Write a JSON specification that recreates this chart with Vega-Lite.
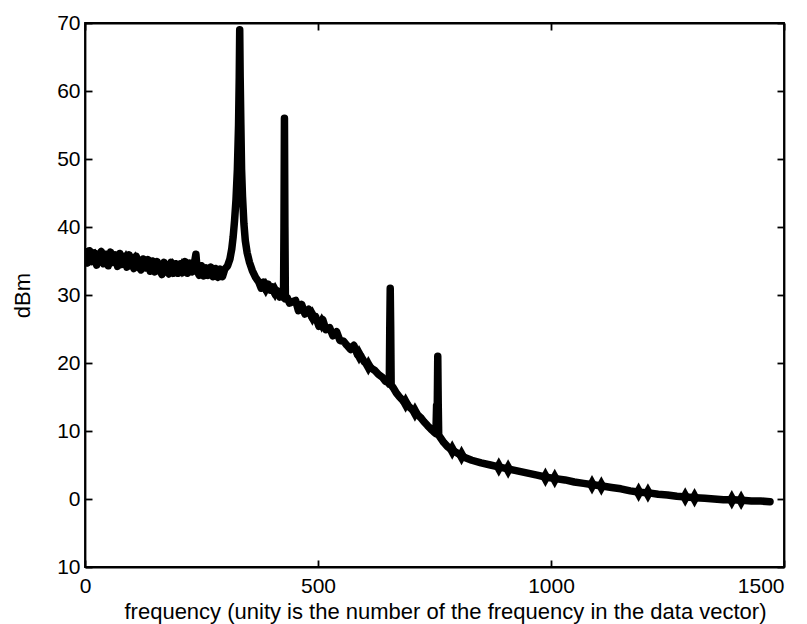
{
  "$schema": "https://vega.github.io/schema/vega-lite/v6.json",
  "width": 699,
  "height": 544,
  "autosize": "none",
  "padding": {"left": 85, "top": 23, "right": 23, "bottom": 57},
  "background": "white",
  "config": {
    "view": {"stroke": "black", "strokeWidth": 1.8},
    "axis": {
      "grid": false,
      "domainColor": "black",
      "domainWidth": 1.8,
      "tickColor": "black",
      "tickWidth": 1.8,
      "labelColor": "black",
      "titleColor": "black",
      "labelFont": "Liberation Sans",
      "titleFont": "Liberation Sans",
      "labelFontSize": 21,
      "titleFontSize": 22,
      "titleFontWeight": "normal"
    }
  },
  "datasets": {
    "curve": [
      {"f": 0, "dbm": 36.4}, {"f": 5, "dbm": 34.7}, {"f": 10, "dbm": 36.5}, {"f": 15, "dbm": 34.9},
      {"f": 20, "dbm": 36.2}, {"f": 25, "dbm": 34.4}, {"f": 30, "dbm": 35.9}, {"f": 35, "dbm": 36.4},
      {"f": 40, "dbm": 34.6}, {"f": 45, "dbm": 36.0}, {"f": 50, "dbm": 34.3}, {"f": 55, "dbm": 36.3},
      {"f": 60, "dbm": 34.8}, {"f": 65, "dbm": 35.9}, {"f": 70, "dbm": 34.2}, {"f": 75, "dbm": 36.1},
      {"f": 80, "dbm": 34.5}, {"f": 85, "dbm": 35.7}, {"f": 90, "dbm": 34.1}, {"f": 95, "dbm": 35.9},
      {"f": 100, "dbm": 34.6}, {"f": 105, "dbm": 33.9}, {"f": 110, "dbm": 35.7}, {"f": 115, "dbm": 34.2},
      {"f": 120, "dbm": 33.7}, {"f": 125, "dbm": 35.3}, {"f": 130, "dbm": 34.0}, {"f": 135, "dbm": 35.2},
      {"f": 140, "dbm": 33.5}, {"f": 145, "dbm": 35.0}, {"f": 150, "dbm": 33.4}, {"f": 155, "dbm": 34.9},
      {"f": 160, "dbm": 33.8}, {"f": 165, "dbm": 33.0}, {"f": 170, "dbm": 34.8}, {"f": 175, "dbm": 33.5},
      {"f": 180, "dbm": 33.1}, {"f": 185, "dbm": 34.8}, {"f": 190, "dbm": 33.2}, {"f": 195, "dbm": 34.6},
      {"f": 200, "dbm": 33.2}, {"f": 205, "dbm": 34.6}, {"f": 210, "dbm": 33.3}, {"f": 215, "dbm": 34.9},
      {"f": 220, "dbm": 33.2}, {"f": 225, "dbm": 34.7}, {"f": 230, "dbm": 33.4}, {"f": 235, "dbm": 34.8},
      {"f": 238, "dbm": 36.0}, {"f": 241, "dbm": 33.5}, {"f": 245, "dbm": 32.9}, {"f": 250, "dbm": 34.3},
      {"f": 255, "dbm": 32.8}, {"f": 260, "dbm": 34.0}, {"f": 265, "dbm": 32.9}, {"f": 270, "dbm": 34.1},
      {"f": 275, "dbm": 32.7}, {"f": 280, "dbm": 33.9}, {"f": 285, "dbm": 32.6}, {"f": 290, "dbm": 33.8},
      {"f": 295, "dbm": 32.7}, {"f": 300, "dbm": 33.8}, {"f": 306, "dbm": 34.3}, {"f": 311, "dbm": 35.3},
      {"f": 315, "dbm": 36.8}, {"f": 318, "dbm": 38.6}, {"f": 321, "dbm": 41.0}, {"f": 324, "dbm": 44.0},
      {"f": 327, "dbm": 48.5}, {"f": 329.5, "dbm": 55.0}, {"f": 331, "dbm": 62.0}, {"f": 332, "dbm": 69.0},
      {"f": 333, "dbm": 62.0}, {"f": 334.5, "dbm": 55.0}, {"f": 336, "dbm": 48.5}, {"f": 338, "dbm": 44.5},
      {"f": 341, "dbm": 40.5}, {"f": 344, "dbm": 38.0}, {"f": 348, "dbm": 36.2}, {"f": 353, "dbm": 34.8},
      {"f": 359, "dbm": 33.6}, {"f": 366, "dbm": 32.6}, {"f": 373, "dbm": 31.9}, {"f": 378, "dbm": 31.0},
      {"f": 383, "dbm": 31.9}, {"f": 388, "dbm": 30.8}, {"f": 393, "dbm": 31.6}, {"f": 398, "dbm": 30.7},
      {"f": 403, "dbm": 31.2}, {"f": 408, "dbm": 30.1}, {"f": 413, "dbm": 30.6}, {"f": 418, "dbm": 29.7},
      {"f": 422, "dbm": 30.0}, {"f": 426, "dbm": 29.6}, {"f": 427, "dbm": 40.0}, {"f": 428, "dbm": 56.0},
      {"f": 429, "dbm": 40.0}, {"f": 430, "dbm": 29.4}, {"f": 434, "dbm": 29.6}, {"f": 439, "dbm": 28.8},
      {"f": 445, "dbm": 29.0},
      {"f": 452, "dbm": 29.2}, {"f": 458, "dbm": 27.7}, {"f": 465, "dbm": 28.6}, {"f": 472, "dbm": 27.2},
      {"f": 480, "dbm": 27.9}, {"f": 488, "dbm": 26.6}, {"f": 495, "dbm": 26.8}, {"f": 502, "dbm": 25.4},
      {"f": 510, "dbm": 26.4}, {"f": 517, "dbm": 24.9}, {"f": 525, "dbm": 25.2}, {"f": 532, "dbm": 24.0},
      {"f": 540, "dbm": 24.6}, {"f": 547, "dbm": 23.3}, {"f": 555, "dbm": 23.2}, {"f": 562, "dbm": 22.6},
      {"f": 570, "dbm": 22.0}, {"f": 577, "dbm": 22.6}, {"f": 585, "dbm": 21.2}, {"f": 592, "dbm": 21.0},
      {"f": 600, "dbm": 20.1}, {"f": 608, "dbm": 19.7}, {"f": 615, "dbm": 19.2}, {"f": 622, "dbm": 18.9},
      {"f": 630, "dbm": 18.3}, {"f": 638, "dbm": 17.9}, {"f": 645, "dbm": 17.3}, {"f": 651, "dbm": 17.1},
      {"f": 653, "dbm": 16.9}, {"f": 654, "dbm": 25.0}, {"f": 655, "dbm": 31.0}, {"f": 656, "dbm": 25.0},
      {"f": 657, "dbm": 16.8}, {"f": 662, "dbm": 16.3}, {"f": 668, "dbm": 15.6}, {"f": 675, "dbm": 15.0},
      {"f": 682, "dbm": 14.5}, {"f": 690, "dbm": 14.0}, {"f": 698, "dbm": 13.4}, {"f": 705, "dbm": 13.0},
      {"f": 712, "dbm": 12.5}, {"f": 720, "dbm": 12.0}, {"f": 727, "dbm": 11.4}, {"f": 735, "dbm": 10.8},
      {"f": 742, "dbm": 10.3}, {"f": 748, "dbm": 9.9}, {"f": 753, "dbm": 9.6}, {"f": 754.5, "dbm": 13.8},
      {"f": 756, "dbm": 14.0}, {"f": 757, "dbm": 21.0}, {"f": 758, "dbm": 14.0}, {"f": 759, "dbm": 9.4},
      {"f": 763, "dbm": 9.0}, {"f": 770, "dbm": 8.3}, {"f": 778, "dbm": 7.7}, {"f": 786, "dbm": 7.3},
      {"f": 795, "dbm": 6.9}, {"f": 805, "dbm": 6.5}, {"f": 815, "dbm": 6.1}, {"f": 830, "dbm": 5.7},
      {"f": 850, "dbm": 5.3}, {"f": 870, "dbm": 5.0}, {"f": 890, "dbm": 4.7}, {"f": 910, "dbm": 4.4},
      {"f": 930, "dbm": 4.1}, {"f": 950, "dbm": 3.8}, {"f": 970, "dbm": 3.5}, {"f": 990, "dbm": 3.2},
      {"f": 1010, "dbm": 3.0}, {"f": 1030, "dbm": 2.8}, {"f": 1050, "dbm": 2.5}, {"f": 1070, "dbm": 2.3},
      {"f": 1090, "dbm": 2.1}, {"f": 1110, "dbm": 1.9}, {"f": 1130, "dbm": 1.7}, {"f": 1150, "dbm": 1.5},
      {"f": 1170, "dbm": 1.2}, {"f": 1190, "dbm": 1.0}, {"f": 1210, "dbm": 0.9}, {"f": 1230, "dbm": 0.7},
      {"f": 1250, "dbm": 0.6}, {"f": 1270, "dbm": 0.4}, {"f": 1290, "dbm": 0.3}, {"f": 1310, "dbm": 0.2},
      {"f": 1330, "dbm": 0.1}, {"f": 1350, "dbm": 0.0}, {"f": 1370, "dbm": -0.1}, {"f": 1390, "dbm": -0.1},
      {"f": 1410, "dbm": -0.2}, {"f": 1430, "dbm": -0.3}, {"f": 1450, "dbm": -0.3}, {"f": 1470, "dbm": -0.4}
    ],
    "markers": [
      {"f": 6, "dbm": 35.6}, {"f": 22, "dbm": 35.4},
      {"f": 88, "dbm": 35.2}, {"f": 108, "dbm": 35.0},
      {"f": 188, "dbm": 34.0}, {"f": 208, "dbm": 34.0},
      {"f": 388, "dbm": 31.1}, {"f": 408, "dbm": 30.5},
      {"f": 488, "dbm": 26.9}, {"f": 508, "dbm": 25.9},
      {"f": 588, "dbm": 21.2}, {"f": 608, "dbm": 19.6},
      {"f": 688, "dbm": 14.1}, {"f": 708, "dbm": 12.8},
      {"f": 788, "dbm": 7.2}, {"f": 808, "dbm": 6.4},
      {"f": 888, "dbm": 4.7}, {"f": 908, "dbm": 4.4},
      {"f": 988, "dbm": 3.2}, {"f": 1008, "dbm": 3.0},
      {"f": 1088, "dbm": 2.1}, {"f": 1108, "dbm": 1.9},
      {"f": 1188, "dbm": 1.0}, {"f": 1208, "dbm": 0.9},
      {"f": 1288, "dbm": 0.3}, {"f": 1308, "dbm": 0.2},
      {"f": 1388, "dbm": -0.1}, {"f": 1408, "dbm": -0.2}
    ]
  },
  "layer": [
    {
      "data": {"name": "curve"},
      "mark": {"type": "line", "color": "black", "strokeWidth": 7.5, "strokeJoin": "round", "strokeCap": "round", "clip": true},
      "encoding": {
        "x": {
          "field": "f", "type": "quantitative",
          "scale": {"domain": [0, 1500], "nice": false, "zero": false},
          "axis": {
            "orient": "bottom",
            "values": [0, 500, 1000, 1500],
            "format": "d",
            "tickSize": -7,
            "labelPadding": 15,
            "labelFlush": false,
            "labelAlign": {"condition": {"test": "datum.value == 1500", "value": "right"}, "value": "center"},
            "title": "frequency (unity is the number of the frequency in the data vector)",
            "titleX": 360,
            "titlePadding": 5
          }
        },
        "y": {
          "field": "dbm", "type": "quantitative",
          "scale": {"domain": [-10, 70], "nice": false, "zero": false},
          "axis": {
            "orient": "left",
            "values": [-10, 0, 10, 20, 30, 40, 50, 60, 70],
            "labelExpr": "format(abs(datum.value), 'd')",
            "tickSize": -7,
            "labelPadding": 12,
            "title": "dBm",
            "titlePadding": 22
          }
        }
      }
    },
    {
      "data": {"name": "markers"},
      "mark": {"type": "point", "shape": "M0,-1L0.55,0L0,1L-0.55,0Z", "filled": true, "color": "black", "opacity": 1, "size": 380, "clip": true},
      "encoding": {
        "x": {"field": "f", "type": "quantitative", "axis": null},
        "y": {"field": "dbm", "type": "quantitative", "axis": null}
      }
    },
    {
      "data": {"name": "curve"},
      "mark": {"type": "line", "opacity": 0},
      "encoding": {
        "x": {"field": "f", "type": "quantitative",
          "axis": {"orient": "top", "values": [0, 500, 1000, 1500], "labels": false, "tickSize": -7, "title": null}},
        "y": {"field": "dbm", "type": "quantitative",
          "axis": {"orient": "right", "values": [-10, 0, 10, 20, 30, 40, 50, 60, 70], "labels": false, "tickSize": -7, "title": null}}
      }
    }
  ],
  "resolve": {"axis": {"x": "independent", "y": "independent"}}
}
